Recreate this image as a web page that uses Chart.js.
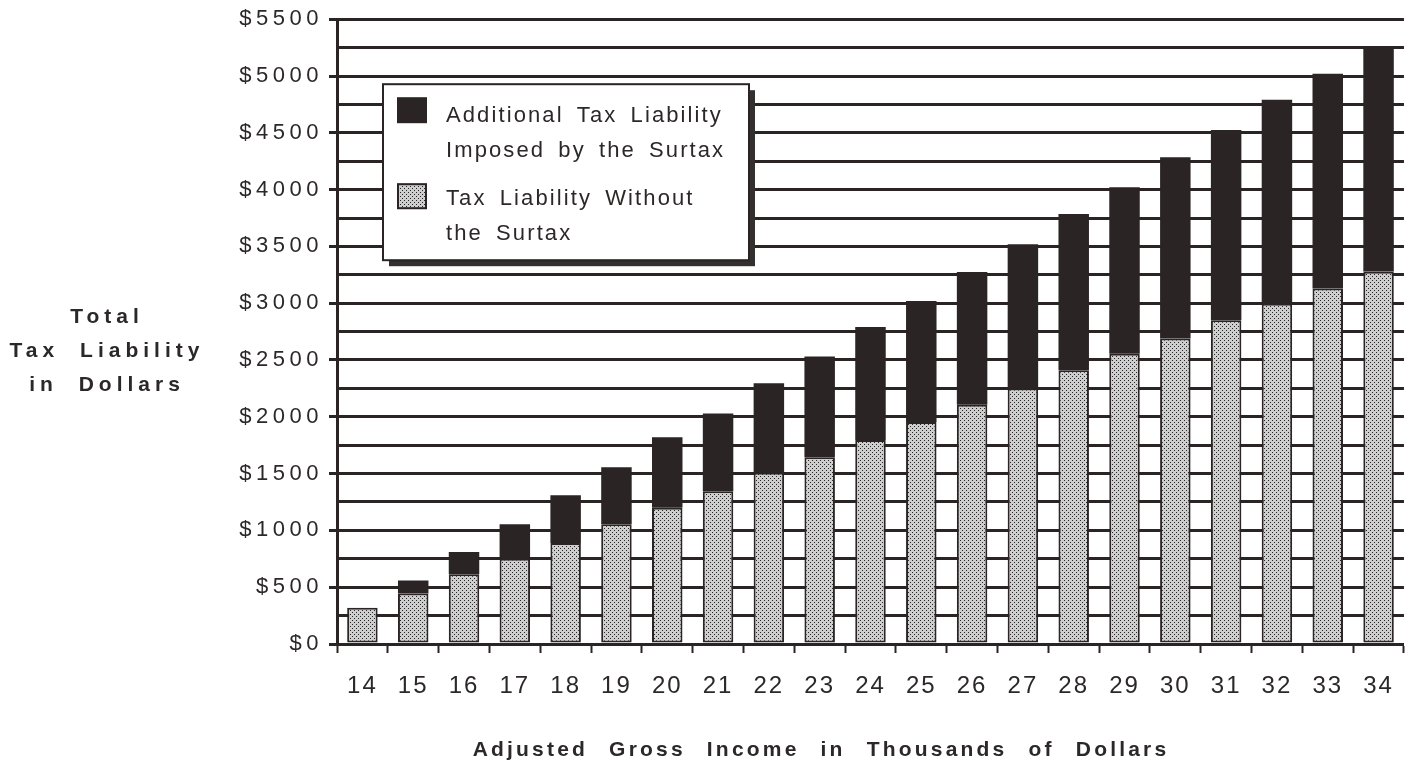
<!DOCTYPE html>
<html>
<head>
<meta charset="utf-8">
<title>Total Tax Liability in Dollars</title>
<script src="https://cdn.jsdelivr.net/npm/chart.js@4.4.1/dist/chart.umd.min.js"></script>
<style>
  html, body { margin: 0; padding: 0; background: #fff; }
  canvas { display: block; }
</style>
</head>
<body>
<canvas id="taxChart" width="1411" height="763"></canvas>
<script>
// adjusted gross income, thousands of dollars
const incomes = ['14', '15', '16', '17', '18', '19', '20', '21', '22', '23', '24',
                 '25', '26', '27', '28', '29', '30', '31', '32', '33', '34'];
// tax owed without the surtax
const baseTax = [320, 445, 615, 750, 890, 1055, 1200, 1345, 1510, 1645, 1795,
                 1955, 2105, 2250, 2410, 2555, 2690, 2850, 2995, 3130, 3280];
// extra tax the surtax adds on top
const surtax = [0, 115, 195, 305, 420, 500, 620, 685, 785, 885, 995,
                1065, 1170, 1270, 1375, 1465, 1595, 1675, 1795, 1890, 1970];

const legendLines = [
  ['Additional Tax Liability', 'Imposed by the Surtax'],
  ['Tax Liability Without', 'the Surtax']
];
const yTitle = ['Total', 'Tax Liability', 'in Dollars'];
const xTitle = 'Adjusted Gross Income in Thousands of Dollars';

const INK = '#2b2424';
const TEXT = '#2c2828';
const FONT = "'Liberation Sans', Arial, Helvetica, sans-serif";

// grey dot screen for the base bars
function stipple() {
  const c = document.createElement('canvas');
  c.width = 4; c.height = 4;
  const g = c.getContext('2d');
  g.fillStyle = '#cecece';
  g.fillRect(0, 0, 4, 4);
  g.fillStyle = '#262626';
  g.fillRect(0, 0, 1, 1);
  g.fillRect(2, 2, 1, 1);
  return g.createPattern(c, 'repeat');
}
const dots = stipple();

const boxedLegend = {
  id: 'boxedLegend',
  beforeDraw(chart) {
    // spacing for the x tick labels (drawn before the bars)
    chart.ctx.letterSpacing = '2px';
  },
  afterDatasetsDraw(chart) {
    const ctx = chart.ctx;
    const area = chart.chartArea;
    const left = area.left + 46, top = area.top + 65, w = 366, h = 176;
    ctx.save();
    ctx.fillStyle = '#353030';
    ctx.fillRect(left + 6, top + 6, w, h);
    ctx.fillStyle = '#fff';
    ctx.fillRect(left, top, w, h);
    ctx.lineWidth = 2;
    ctx.strokeStyle = INK;
    ctx.strokeRect(left, top, w, h);

    const sets = chart.data.datasets;
    // dark swatch first, dotted one below it
    ctx.fillStyle = sets[1].backgroundColor;
    ctx.fillRect(left + 14, top + 13, 30, 26);
    ctx.fillStyle = sets[0].backgroundColor;
    ctx.fillRect(left + 14, top + 99, 30, 26);
    ctx.strokeRect(left + 15, top + 100, 28, 24);

    ctx.fillStyle = TEXT;
    ctx.font = '22px ' + FONT;
    ctx.letterSpacing = '2.1px';
    ctx.wordSpacing = '5px';
    ctx.textBaseline = 'alphabetic';
    ctx.textAlign = 'left';
    const rows = [top + 38, top + 73, top + 121, top + 156];
    legendLines.flat().forEach((t, i) => ctx.fillText(t, left + 63, rows[i]));
    ctx.restore();
    // y tick labels come next (ticks z = 1)
    ctx.letterSpacing = '4.5px';
  },
  afterDraw(chart) {
    const ctx = chart.ctx;
    const area = chart.chartArea;
    ctx.letterSpacing = '0px';
    ctx.save();
    ctx.fillStyle = TEXT;
    ctx.textAlign = 'center';
    ctx.textBaseline = 'alphabetic';

    ctx.font = 'bold 21px ' + FONT;
    ctx.letterSpacing = '5px';
    ctx.wordSpacing = '10px';
    yTitle.forEach((t, i) => ctx.fillText(t, area.left - 230, 323 + i * 34));

    ctx.letterSpacing = '3.2px';
    ctx.wordSpacing = '12px';
    ctx.fillText(xTitle, 821, 756);
    ctx.restore();
  }
};

const ctx = document.getElementById('taxChart').getContext('2d');
const taxChart = new Chart(ctx, {
  type: 'bar',
  data: {
    labels: incomes,
    datasets: [
      {
        label: legendLines[1].join(' '),
        data: baseTax,
        backgroundColor: dots,
        borderColor: INK,
        borderWidth: 2,
        borderSkipped: false,
        barPercentage: 0.6,
        categoryPercentage: 1
      },
      {
        label: legendLines[0].join(' '),
        data: surtax,
        backgroundColor: INK,
        borderWidth: 0,
        barPercentage: 0.6,
        categoryPercentage: 1
      }
    ]
  },
  options: {
    responsive: false,
    devicePixelRatio: 1,
    animation: false,
    events: [],
    layout: { padding: { top: 19, right: 4, left: 0, bottom: 0 } },
    plugins: {
      legend: { display: false },
      tooltip: { enabled: false }
    },
    scales: {
      x: {
        stacked: true,
        grid: { drawOnChartArea: false, offset: true, tickLength: 9, tickWidth: 2, tickColor: INK },
        border: { color: INK, width: 3 },
        ticks: {
          color: TEXT,
          padding: 19,
          autoSkip: false,
          maxRotation: 0,
          font: { family: FONT, size: 24 }
        },
        afterFit: s => { s.height = 119; }
      },
      y: {
        stacked: true,
        min: 0,
        max: 5500,
        grid: {
          color: INK,
          lineWidth: 3,
          tickLength: 8,
          tickWidth: 3,
          tickColor: c => (c.tick && c.tick.value % 500 === 0) ? INK : 'rgba(0,0,0,0)'
        },
        border: { color: INK, width: 3 },
        ticks: {
          stepSize: 250,
          autoSkip: false,
          padding: 6,
          z: 1,
          color: TEXT,
          font: { family: FONT, size: 22 },
          callback: v => (v % 500 === 0) ? '$' + v : ''
        },
        afterFit: s => { s.width = 337; }
      }
    }
  },
  plugins: [boxedLegend]
});
</script>
</body>
</html>
